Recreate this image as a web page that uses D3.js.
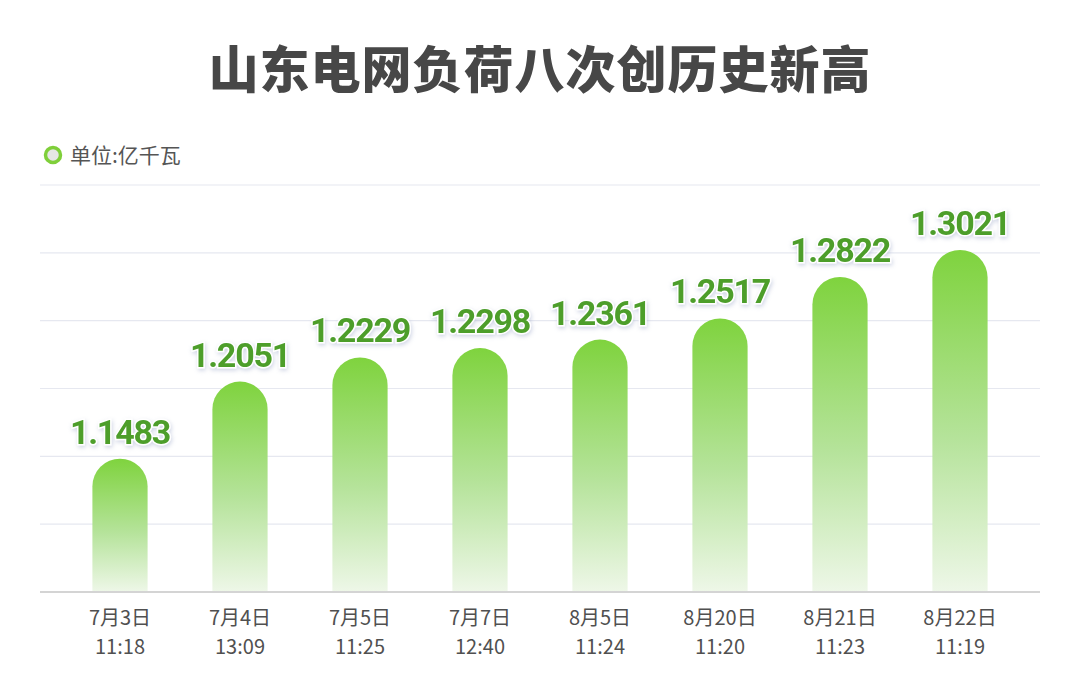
<!DOCTYPE html>
<html>
<head>
<meta charset="utf-8">
<script src="https://cdn.jsdelivr.net/npm/d3@7"></script>
<style>
  body { margin: 0; background: #fff; }
  text { font-family: "Noto Sans CJK SC", "Noto Sans", sans-serif; }
</style>
</head>
<body>
<div id="chart"></div>
<script>
// data
var dates  = ["7月3日", "7月4日", "7月5日", "7月7日", "8月5日", "8月20日", "8月21日", "8月22日"];
var times  = ["11:18", "13:09", "11:25", "12:40", "11:24", "11:20", "11:23", "11:19"];
var values = [1.1483, 1.2051, 1.2229, 1.2298, 1.2361, 1.2517, 1.2822, 1.3021];
var yTicks = [1.05, 1.10, 1.15, 1.20, 1.25, 1.30, 1.35];

var W = 1080, H = 691;
var margin = {top: 185, right: 40, bottom: 99, left: 40};

var svg = d3.select("#chart").append("svg")
    .attr("width", W).attr("height", H);

var defs = svg.append("defs");
var grad = defs.append("linearGradient")
    .attr("id", "barGrad").attr("x1", 0).attr("y1", 0).attr("x2", 0).attr("y2", 1);
grad.append("stop").attr("offset", "0%").attr("stop-color", "#7fd33e");
grad.append("stop").attr("offset", "55%").attr("stop-color", "#b5e39a");
grad.append("stop").attr("offset", "100%").attr("stop-color", "#eef7e8");

var shadow = defs.append("filter").attr("id", "lblShadow")
    .attr("x", "-10%").attr("y", "-20%").attr("width", "130%").attr("height", "150%");
shadow.append("feDropShadow").attr("dx", 1).attr("dy", 2).attr("stdDeviation", 2)
    .attr("flood-color", "#9aa4c8").attr("flood-opacity", 0.45);

// title
svg.append("text")
    .attr("x", W / 2).attr("y", 88)
    .attr("text-anchor", "middle")
    .style("font-size", "50px").style("font-weight", 900)
    .style("fill", "#474747").style("letter-spacing", "1px")
    .text("山东电网负荷八次创历史新高");

// legend
svg.append("circle").attr("cx", 53).attr("cy", 155).attr("r", 7.5)
    .style("fill", "#e6e6e6").style("stroke", "#7fcf3a").style("stroke-width", 3.5);
svg.append("text").attr("x", 70).attr("y", 163)
    .style("font-size", "21px").style("fill", "#555")
    .text("单位:亿千瓦");

var x = d3.scaleBand().domain(dates).range([60, 1020])
    .paddingInner(0.54).paddingOuter(0.27);
var y = d3.scaleLinear().domain([1.05, 1.35]).range([592, margin.top]);

var g = svg.append("g");

// gridlines
g.selectAll("line.grid").data(yTicks.slice(1)).enter().append("line")
    .attr("class", "grid")
    .attr("x1", margin.left).attr("x2", W - margin.right)
    .attr("y1", d => y(d)).attr("y2", d => y(d))
    .style("stroke", "#e6e8f0").style("stroke-width", 1.2);

// bars with rounded tops
g.selectAll("path.bar").data(values).enter().append("path")
    .attr("class", "bar")
    .attr("d", function(d, i) {
        var x0 = x(dates[i]), bw = x.bandwidth(), r = bw / 2;
        var top = y(d), bot = y(1.05);
        return "M" + x0 + "," + bot +
            "L" + x0 + "," + (top + r) +
            "A" + r + "," + r + " 0 0 1 " + (x0 + bw) + "," + (top + r) +
            "L" + (x0 + bw) + "," + bot + "Z";
    })
    .style("fill", "url(#barGrad)");

// baseline
g.append("line")
    .attr("x1", margin.left).attr("x2", W - margin.right)
    .attr("y1", y(1.05)).attr("y2", y(1.05))
    .style("stroke", "#d4d4d4").style("stroke-width", 2);

// value labels
g.selectAll("text.val").data(values).enter().append("text")
    .attr("class", "val")
    .attr("x", (d, i) => x(dates[i]) + x.bandwidth() / 2)
    .attr("y", d => y(d) - 15)
    .attr("text-anchor", "middle")
    .attr("filter", "url(#lblShadow)")
    .style("font-family", "Roboto, 'Noto Sans', sans-serif")
    .style("font-size", "34px").style("font-weight", 700)
    .style("letter-spacing", "-1.2px")
    .style("fill", "#4d9e2c")
    .style("stroke", "#fff").style("stroke-width", 3)
    .style("paint-order", "stroke")
    .text(d => d.toFixed(4));

// x labels, date line and time line
g.selectAll("text.xd").data(dates).enter().append("text")
    .attr("class", "xd")
    .attr("x", d => x(d) + x.bandwidth() / 2).attr("y", 625)
    .attr("text-anchor", "middle")
    .style("font-size", "20px").style("fill", "#505050")
    .text(d => d);
g.selectAll("text.xt").data(times).enter().append("text")
    .attr("class", "xt")
    .attr("x", (d, i) => x(dates[i]) + x.bandwidth() / 2).attr("y", 654)
    .attr("text-anchor", "middle")
    .style("font-size", "20px").style("fill", "#505050")
    .text(d => d);
</script>
</body>
</html>
